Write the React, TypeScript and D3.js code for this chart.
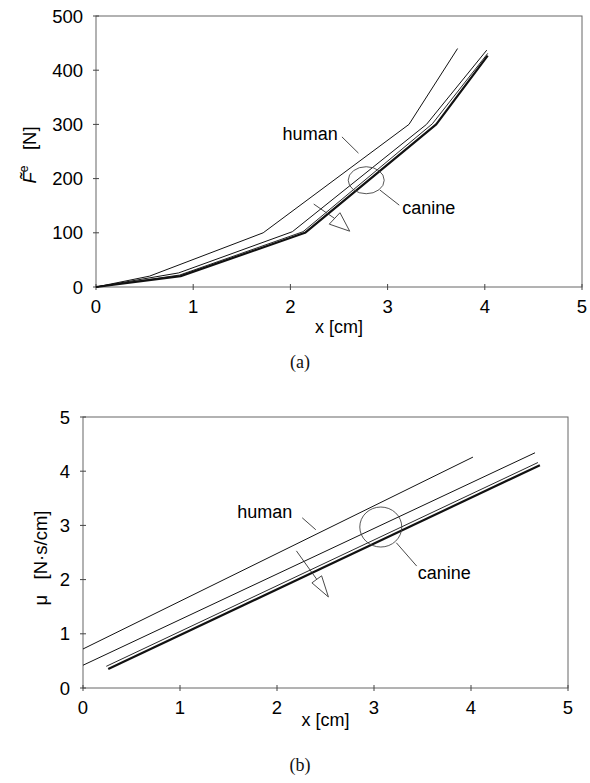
import React from "react";
import * as d3 from "d3";

// ---------- data ----------
const xTicks = [0, 1, 2, 3, 4, 5];
const forceTicks = [0, 100, 200, 300, 400, 500];
const muTicks = [0, 1, 2, 3, 4, 5];

// (a) force vs x
const forceHumanX = [0, 0.55, 1.72, 3.22, 3.72];
const forceHumanY = [0, 20, 100, 300, 440];
const forceCanineAX = [0, 0.85, 2.02, 3.4, 4.02];
const forceCanineAY = [0, 26, 102, 300, 437];
const forceCanineBX = [0, 0.86, 2.13, 3.46, 4.03];
const forceCanineBY = [0, 22, 102, 301, 431];
const forceCanineCX = [0, 0.87, 2.15, 3.5, 4.03];
const forceCanineCY = [0, 20, 100, 300, 427];

// (b) damping vs x
const muHumanX = [0, 4.02];
const muHumanY = [0.72, 4.26];
const muCanineAX = [0, 4.66];
const muCanineAY = [0.42, 4.34];
const muCanineBX = [0.24, 4.69];
const muCanineBY = [0.4, 4.16];
const muCanineCX = [0.26, 4.71];
const muCanineCY = [0.35, 4.11];

// annotations (data units)
const annA = {
  human: [1.92, 271], humanLead: [2.53, 277, 2.7, 247],
  circle: [2.78, 197], canineLead: [2.92, 179, 3.12, 151], canine: [3.15, 135],
  arrowStart: [2.24, 153], tri: [[2.4, 116], [2.51, 137], [2.61, 103]],
};
const annB = {
  human: [1.59, 3.14], humanLead: [2.26, 3.14, 2.4, 2.92],
  circle: [3.07, 2.97], canineLead: [3.23, 2.68, 3.44, 2.25], canine: [3.45, 2.01],
  arrowStart: [2.2, 2.53], tri: [[2.36, 1.94], [2.46, 2.07], [2.53, 1.68]],
};

const SANS = "'Liberation Sans', Arial, Helvetica, sans-serif";
const SERIF = "'Liberation Serif', 'Times New Roman', serif";

function zip(xs: number[], ys: number[]): [number, number][] {
  return xs.map((x, i) => [x, ys[i]]);
}

type PanelProps = {
  x: d3.ScaleLinear<number, number>;
  y: d3.ScaleLinear<number, number>;
  yTicks: number[];
  series: { xs: number[]; ys: number[]; w: number }[];
  ann: any;
  rx: number;
  ry: number;
  yTitle: React.ReactNode;
  xTitleY: number;
  caption: string;
  captionY: number;
};

function Panel(p: PanelProps) {
  const { x, y } = p;
  const [x0, x1] = x.range();
  const [y0, y1] = y.range();
  const line = d3.line<[number, number]>().x((d) => x(d[0])).y((d) => y(d[1]));
  const a = p.ann;
  const tri = a.tri.map((t: number[]) => [x(t[0]), y(t[1])]);
  const baseMid = [(tri[0][0] + tri[1][0]) / 2, (tri[0][1] + tri[1][1]) / 2];
  return (
    <g>
      <rect x={x0} y={y1} width={x1 - x0} height={y0 - y1} fill="none" stroke="#666" strokeWidth={1} />
      {xTicks.map((t) => (
        <g key={"xt" + t}>
          <line x1={x(t)} x2={x(t)} y1={y0 - 3} y2={y0 + 3} stroke="#444" />
          <text x={x(t)} y={y0 + 26} textAnchor="middle" fontFamily={SANS} fontSize={18.5} fill="#000">{t}</text>
        </g>
      ))}
      {p.yTicks.map((t) => (
        <g key={"yt" + t}>
          <line x1={x0 - 3} x2={x0 + 3} y1={y(t)} y2={y(t)} stroke="#444" />
          <text x={x0 - 13} y={y(t) + 6.5} textAnchor="end" fontFamily={SANS} fontSize={18.5} fill="#000">{t}</text>
        </g>
      ))}
      {p.series.map((s, i) => (
        <path key={"s" + i} d={line(zip(s.xs, s.ys)) || ""} fill="none" stroke="#111" strokeWidth={s.w} strokeLinejoin="round" />
      ))}
      <text x={x(a.human[0])} y={y(a.human[1])} fontFamily={SANS} fontSize={18} fill="#000">human</text>
      <line x1={x(a.humanLead[0])} y1={y(a.humanLead[1])} x2={x(a.humanLead[2])} y2={y(a.humanLead[3])} stroke="#333" strokeWidth={0.9} />
      <ellipse cx={x(a.circle[0])} cy={y(a.circle[1])} rx={p.rx} ry={p.ry} fill="none" stroke="#444" strokeWidth={0.9} />
      <line x1={x(a.canineLead[0])} y1={y(a.canineLead[1])} x2={x(a.canineLead[2])} y2={y(a.canineLead[3])} stroke="#333" strokeWidth={0.9} />
      <text x={x(a.canine[0])} y={y(a.canine[1])} fontFamily={SANS} fontSize={18} fill="#000">canine</text>
      <line x1={x(a.arrowStart[0])} y1={y(a.arrowStart[1])} x2={baseMid[0]} y2={baseMid[1]} stroke="#333" strokeWidth={0.9} />
      <polygon points={tri.map((q: number[]) => q.join(",")).join(" ")} fill="white" stroke="#333" strokeWidth={0.9} />
      <text x={(x0 + x1) / 2} y={p.xTitleY} textAnchor="middle" fontFamily={SANS} fontSize={18} fill="#000">x [cm]</text>
      {p.yTitle}
      <text x={300} y={p.captionY} textAnchor="middle" fontFamily={SERIF} fontSize={18} fill="#111">{p.caption}</text>
    </g>
  );
}

export default function App() {
  const xA = d3.scaleLinear().domain([0, 5]).range([96, 582]);
  const yA = d3.scaleLinear().domain([0, 500]).range([287, 16]);
  const xB = d3.scaleLinear().domain([0, 5]).range([83, 568]);
  const yB = d3.scaleLinear().domain([0, 5]).range([688, 417]);

  const seriesA = [
    { xs: forceHumanX, ys: forceHumanY, w: 1 },
    { xs: forceCanineAX, ys: forceCanineAY, w: 1 },
    { xs: forceCanineBX, ys: forceCanineBY, w: 0.9 },
    { xs: forceCanineCX, ys: forceCanineCY, w: 2.2 },
  ];
  const seriesB = [
    { xs: muHumanX, ys: muHumanY, w: 1 },
    { xs: muCanineAX, ys: muCanineAY, w: 1 },
    { xs: muCanineBX, ys: muCanineBY, w: 0.9 },
    { xs: muCanineCX, ys: muCanineCY, w: 2.2 },
  ];

  const titleA = (
    <text transform="translate(36,155) rotate(-90)" textAnchor="middle" fontFamily={SANS} fontSize={18.5} fill="#000">
      <tspan fontStyle="italic">{"F\u0303"}</tspan>
      <tspan fontSize={12} dy={-8}>e</tspan>
      <tspan dy={8}>{"\u00a0\u00a0\u00a0[N]"}</tspan>
    </text>
  );
  const titleB = (
    <text transform="translate(47,558) rotate(-90)" textAnchor="middle" fontFamily={SANS} fontSize={18.5} fill="#000">
      {"\u03bc\u00a0\u00a0\u00a0[N\u00b7s/cm]"}
    </text>
  );

  return (
    <svg width={590} height={783} style={{ position: "absolute", left: 0, top: 0, background: "white" }}>
      <rect width={590} height={783} fill="white" />
      <Panel x={xA} y={yA} yTicks={forceTicks} series={seriesA} ann={annA} rx={18} ry={13.5}
        yTitle={titleA} xTitleY={333} caption="(a)" captionY={368} />
      <Panel x={xB} y={yB} yTicks={muTicks} series={seriesB} ann={annB} rx={21} ry={20}
        yTitle={titleB} xTitleY={726} caption="(b)" captionY={771} />
    </svg>
  );
}
